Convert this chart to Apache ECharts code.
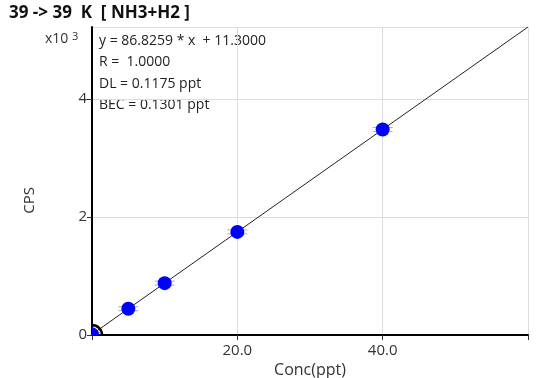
<!DOCTYPE html>
<html><head><meta charset="utf-8">
<script src="https://cdn.jsdelivr.net/npm/echarts@6/dist/echarts.min.js"></script>
<style>html,body{margin:0;padding:0;background:#fff}#c{width:539px;height:378px}</style>
</head><body><div id="c"></div>
<script>
const conc = [0, 5, 10, 20, 40];
const cps = [11, 445, 879, 1748, 3484];
const fitX = [0, 60];
const fitY = [11.3, 5220.9];
const xTicks = ['20.0', '40.0'];
const yTicks = ['0', '2', '4'];
const infoLines = ['y = 86.8259 * x  + 11.3000', 'R =  1.0000', 'DL = 0.1175 ppt', 'BEC = 0.1301 ppt'];
const titleText = '39 -> 39  K  [ NH3+H2 ]';

const FONT = '"Open Sans", "Noto Sans", sans-serif';
const chart = echarts.init(document.getElementById('c'));
const pts = conc.map((x, i) => [x, cps[i]]);

chart.setOption({
  animation: false,
  backgroundColor: '#fff',
  grid: { left: 92, right: 11, top: 27, bottom: 43, containLabel: false, outerBoundsMode: 'none' },
  graphic: [
    { type: 'text', left: 9, top: 5, style: { text: titleText, font: 'bold 17px ' + FONT, fill: '#111' } },
    { type: 'text', left: 45, top: 31, style: { text: '{a|x10 }{b|3}', rich: { a: { font: '14px ' + FONT, fill: '#333' }, b: { font: '11px ' + FONT, fill: '#333', verticalAlign: 'top', padding: [0,0,6,0] } } } },
    { type: 'text', left: 99, top: 30, style: { text: infoLines.join('\n'), font: '14px ' + FONT, lineHeight: 21.5, fill: '#222' } },
    { type: 'text', left: 22, top: 187, rotation: Math.PI/2, style: { text: 'CPS', font: '15px ' + FONT, fill: '#333', align: 'center', verticalAlign: 'middle' } }
  ],
  xAxis: {
    type: 'value', min: 0, max: 60, interval: 20,
    name: 'Conc(ppt)', nameLocation: 'middle', nameGap: 24,
    nameTextStyle: { fontFamily: FONT, fontSize: 16, color: '#333' },
    axisLine: { show: true, onZero: false, lineStyle: { color: '#000', width: 2 } },
    axisTick: { show: true, length: 5, lineStyle: { color: '#333' } },
    axisLabel: { fontFamily: FONT, fontSize: 15, color: '#333', margin: 8,
      formatter: v => { const i = [20, 40].indexOf(v); return i >= 0 ? xTicks[i] : ''; } },
    splitLine: { show: true, lineStyle: { color: '#dcdcdc', width: 1 } }
  },
  yAxis: {
    type: 'value', min: 0, max: 5221, interval: 2000,
    axisLine: { show: true, onZero: false, lineStyle: { color: '#000', width: 2 } },
    axisTick: { show: true, length: 5, lineStyle: { color: '#333' } },
    axisLabel: { fontFamily: FONT, fontSize: 15, color: '#333', margin: 5, showMaxLabel: false,
      formatter: v => { const i = [0, 2000, 4000].indexOf(v); return i >= 0 ? yTicks[i] : ''; } },
    splitLine: { show: true, lineStyle: { color: '#dcdcdc', width: 1 } }
  },
  series: [
    { type: 'line', data: fitX.map((x, i) => [x, fitY[i]]), symbol: 'none',
      lineStyle: { color: '#222', width: 1 }, z: 3 },
    { type: 'custom', clip: true, z: 4, data: pts,
      renderItem: (params, api) => {
        const p = api.coord([api.value(0), api.value(1)]);
        const children = [
          { type: 'line', shape: { x1: p[0]-10, y1: p[1]-2, x2: p[0]+10, y2: p[1]-2 }, style: { stroke: '#b0b0b0', lineWidth: 1 } },
          { type: 'line', shape: { x1: p[0]-10, y1: p[1]+2, x2: p[0]+10, y2: p[1]+2 }, style: { stroke: '#b0b0b0', lineWidth: 1 } },
          { type: 'circle', shape: { cx: p[0], cy: p[1], r: 7 }, style: { fill: '#0000ff' } }
        ];
        if (params.dataIndex === 0) {
          const o = api.coord([0, 0]);
          children.push({ type: 'circle', shape: { cx: o[0], cy: o[1], r: 10 }, style: { fill: 'none', stroke: '#000', lineWidth: 2.5 } });
        }
        return { type: 'group', children };
      }
    }
  ]
});
</script></body></html>
